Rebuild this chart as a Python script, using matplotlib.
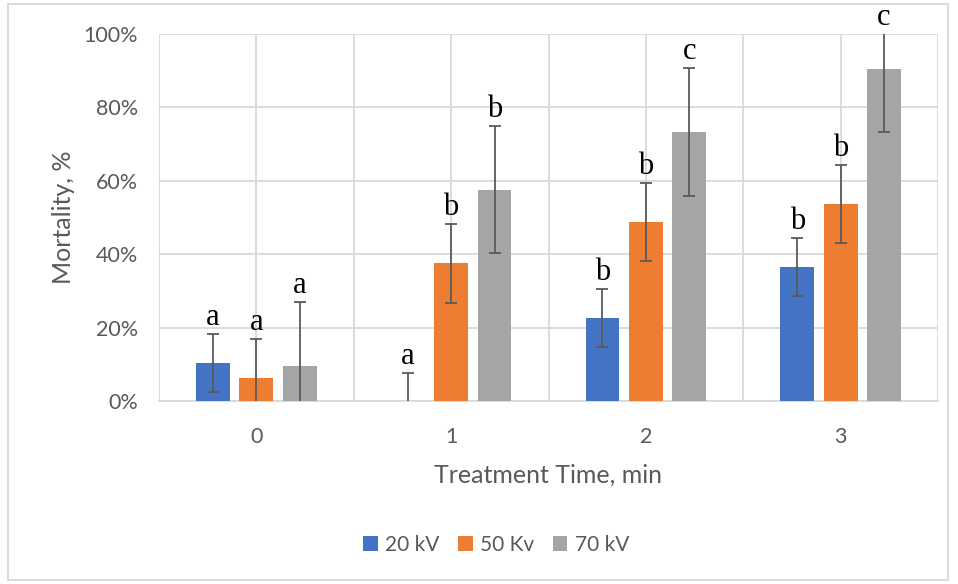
import matplotlib.pyplot as plt
import numpy as np
from matplotlib.patches import Rectangle

# data (fractions of 1 = 100%)
times = ["0", "1", "2", "3"]
series = ["20 kV", "50 Kv", "70 kV"]
kv20 = [0.104, 0.0, 0.226, 0.365]
kv50 = [0.063, 0.375, 0.488, 0.537]
kv70 = [0.096, 0.576, 0.732, 0.905]
err20 = [0.079, 0.077, 0.079, 0.079]
err50 = [0.106, 0.107, 0.106, 0.107]
err70 = [0.175, 0.174, 0.174, 0.173]
letters20 = ["a", "a", "b", "b"]
letters50 = ["a", "b", "b", "b"]
letters70 = ["a", "b", "c", "c"]

colors = ["#4472C4", "#ED7D31", "#A5A5A5"]
text_col = "#595959"
grid_col = "#D9D9D9"

plt.rcParams["font.family"] = ["Lato", "DejaVu Sans"]

fig = plt.figure(figsize=(9.58, 5.84), dpi=100)
ax = fig.add_axes([159 / 958, 1 - 401 / 584, 779 / 958, 367 / 584])

x = np.arange(len(times))
width = 0.174
step = 0.223
vals = [kv20, kv50, kv70]
errs = [err20, err50, err70]
lets = [letters20, letters50, letters70]

for i, (v, e, c, name, lt) in enumerate(zip(vals, errs, colors, series, lets)):
    pos = x + (i - 1) * step
    ax.bar(pos, v, width, color=c, label=name, zorder=3)
    ax.errorbar(pos, v, yerr=e, fmt="none", ecolor="#5A5A5A", elinewidth=1.3,
                capsize=4.2, capthick=1.3, zorder=4)
    for p, val, er, l in zip(pos, v, e, lt):
        top = min(val + er, 1.0)
        ax.annotate(l, (p, top), xytext=(0, 6.5), textcoords="offset points",
                    ha="center", va="baseline", fontsize=22,
                    family=["Liberation Serif", "DejaVu Serif"], color="black",
                    annotation_clip=False)

ax.set_xlim(-0.5, 3.5)
ax.set_ylim(0, 1.0)
ax.set_yticks(np.arange(0, 1.01, 0.2))
ax.set_yticklabels([f"{int(round(t * 100))}%" for t in np.arange(0, 1.01, 0.2)])
ax.set_xticks(x)
ax.set_xticklabels(times)
ax.set_xticks(np.arange(-0.5, 3.51, 1.0), minor=True)

ax.grid(axis="y", which="major", color=grid_col, lw=1.3, zorder=0)
ax.grid(axis="x", which="both", color=grid_col, lw=1.3, zorder=0)
ax.tick_params(axis="both", which="both", length=0, colors=text_col, labelsize=15.5)
ax.tick_params(axis="y", pad=15)
ax.tick_params(axis="x", pad=19)
for s in ["top", "right", "left"]:
    ax.spines[s].set_visible(False)
ax.spines["bottom"].set_color(grid_col)
ax.spines["bottom"].set_linewidth(1.3)

ax.set_xlabel("Treatment Time, min", fontsize=18, color=text_col, labelpad=12)
ax.set_ylabel("Mortality, %", fontsize=18, color=text_col, labelpad=6)

fig.legend(loc="center", bbox_to_anchor=(496 / 958, 1 - 545 / 584), ncol=3,
           frameon=False, fontsize=15, labelcolor=text_col, handlelength=0.7,
           handleheight=0.7, handletextpad=0.35, columnspacing=0.9)

fig.add_artist(Rectangle((8 / 958, 4 / 584), 940 / 958, 576 / 584, transform=fig.transFigure,
                         fill=False, edgecolor=grid_col, lw=1.3))

fig.savefig("out.png", dpi=100)
